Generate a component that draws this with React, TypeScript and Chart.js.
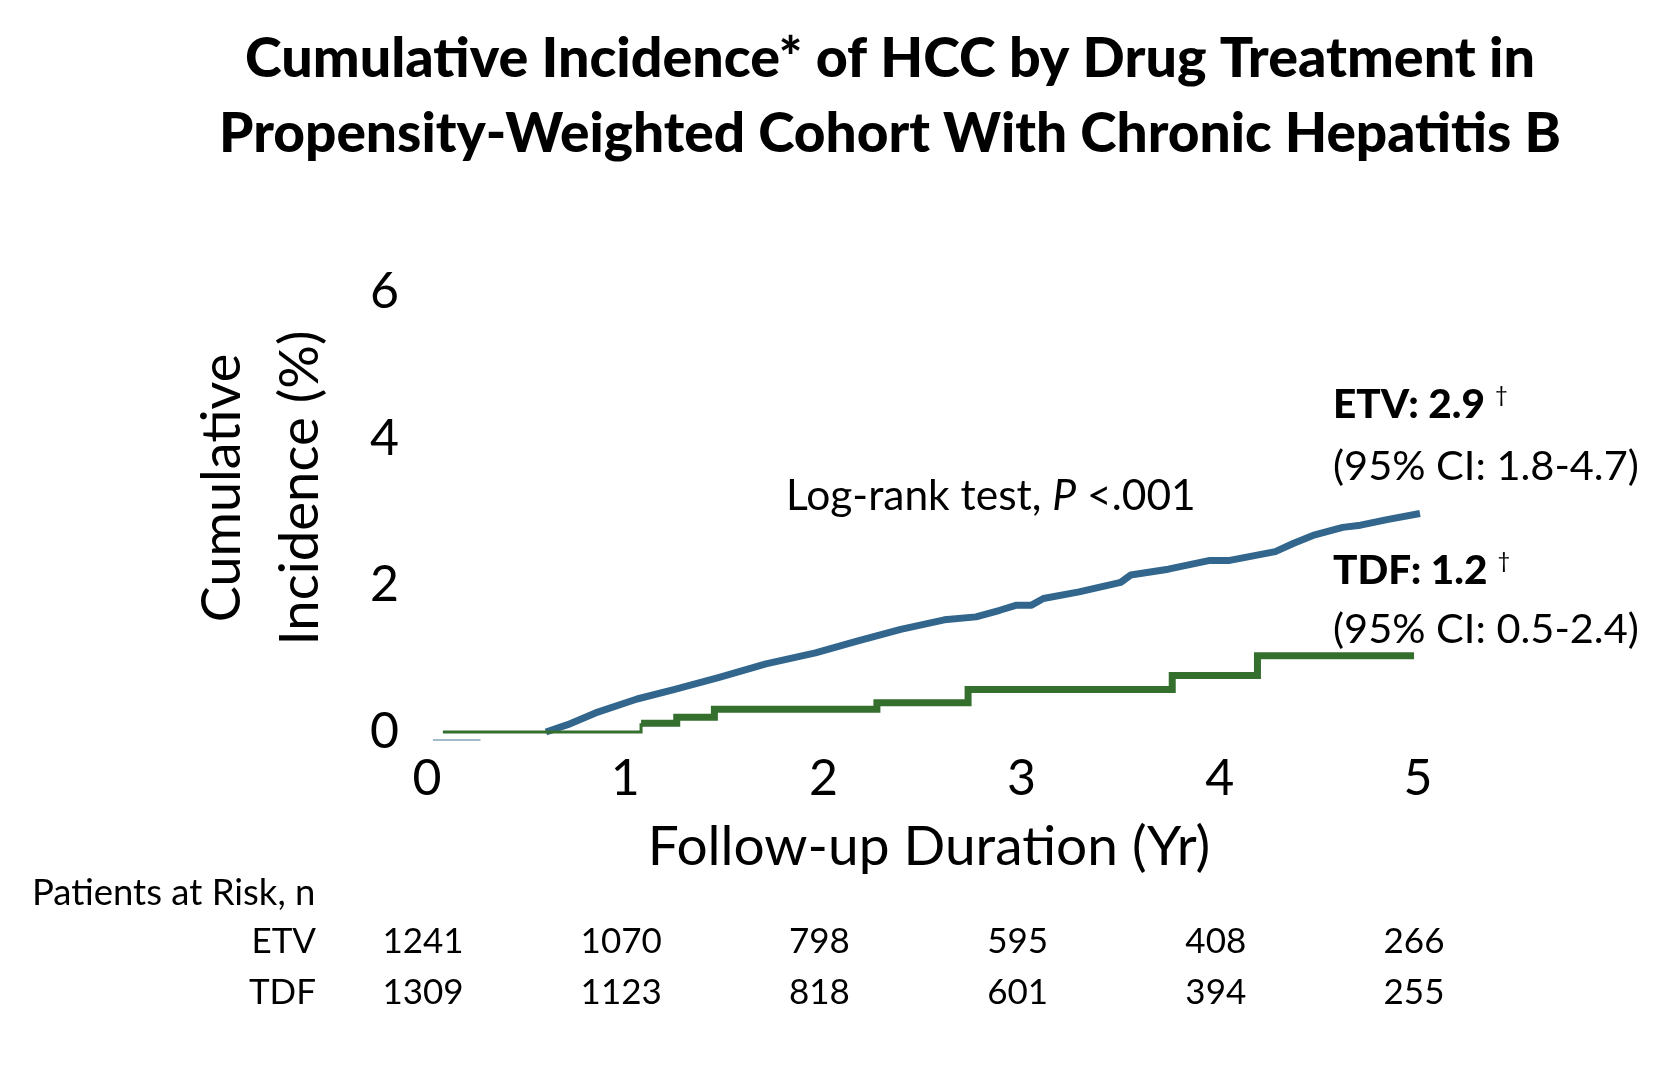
import React, { useEffect, useRef } from "react";
import { Chart, registerables } from "chart.js";

Chart.register(...registerables);

// ---- data ----
const etvYears = [0.6, 0.71, 0.85, 1.06, 1.25, 1.47, 1.71, 1.96, 2.17, 2.39, 2.61, 2.77, 2.89, 2.975, 3.05, 3.11, 3.29, 3.5, 3.55, 3.74, 3.95, 4.05, 4.28, 4.37, 4.47, 4.62, 4.71, 4.85, 5.01];
const etvValues = [0, 0.1, 0.26, 0.45, 0.58, 0.74, 0.93, 1.08, 1.24, 1.4, 1.53, 1.57, 1.66, 1.73, 1.73, 1.82, 1.91, 2.04, 2.14, 2.22, 2.34, 2.34, 2.46, 2.57, 2.68, 2.79, 2.82, 2.9, 2.98];
const etvStubYears = [0.03, 0.27];
const etvStubValues = [-0.11, -0.11];
const tdfYears = [0.08, 1.08, 1.26, 1.45, 2.27, 2.73, 3.76, 4.19, 4.98];
const tdfValues = [0, 0.12, 0.2, 0.31, 0.4, 0.58, 0.77, 1.04, 1.04];

const xTicks = [0, 1, 2, 3, 4, 5];
const yTicks = [0, 2, 4, 6];
const riskGroups = ["ETV", "TDF"];
const riskETV = [1241, 1070, 798, 595, 408, 266];
const riskTDF = [1309, 1123, 818, 601, 394, 255];

const titleLines = [
  "Cumulative Incidence* of HCC by Drug Treatment in",
  "Propensity-Weighted Cohort With Chronic Hepatitis B",
];
const yTitleLines = ["Cumulative", "Incidence (%)"];
const xTitle = "Follow-up Duration (Yr)";
const etvLabel = "ETV: 2.9";
const etvCI = "(95% CI: 1.8-4.7)";
const tdfLabel = "TDF: 1.2";
const tdfCI = "(95% CI: 0.5-2.4)";
const riskHeader = "Patients at Risk, n";

const FONT = "Lato, 'Noto Sans', sans-serif";
const BLUE = "#32668c";
const GREEN = "#356f2e";

const textPlugin = {
  id: "texts",
  afterDraw(chart: any) {
    const ctx = chart.ctx as CanvasRenderingContext2D;
    const xs = chart.scales.x;
    ctx.save();
    ctx.fillStyle = "#000";
    // title
    ctx.textAlign = "center";
    ctx.textBaseline = "middle";
    ctx.font = `900 55.6px ${FONT}`;
    ctx.fillText(titleLines[0], 890, 59);
    ctx.font = `900 55px ${FONT}`;
    ctx.fillText(titleLines[1], 890, 134);

    // y title
    ctx.save();
    ctx.font = `54px ${FONT}`;
    ctx.translate(223, 488);
    ctx.rotate(-Math.PI / 2);
    ctx.fillText(yTitleLines[0], 0, 0);
    ctx.restore();
    ctx.save();
    ctx.font = `54.5px ${FONT}`;
    ctx.translate(300, 488);
    ctx.rotate(-Math.PI / 2);
    ctx.fillText(yTitleLines[1], 0, 0);
    ctx.restore();

    // x title
    ctx.font = `55px ${FONT}`;
    ctx.fillText(xTitle, 929, 847);

    // log-rank
    ctx.textAlign = "left";
    let x = 786;
    const ly = 496;
    ctx.font = `42.5px ${FONT}`;
    const p1 = "Log-rank test, ";
    ctx.fillText(p1, x, ly);
    x += ctx.measureText(p1).width;
    ctx.font = `italic 42.5px ${FONT}`;
    ctx.fillText("P", x, ly);
    x += ctx.measureText("P").width;
    ctx.font = `42.5px ${FONT}`;
    ctx.fillText(" <.001", x, ly);

    // ETV / TDF labels
    const LX = 1333;
    const drawLab = (label: string, y: number) => {
      ctx.font = `900 40.5px ${FONT}`;
      ctx.fillText(label, LX, y);
      const w = ctx.measureText(label).width;
      ctx.font = `22px ${FONT}`;
      ctx.fillText("\u2020", LX + w + 10, y - 10);
    };
    drawLab(etvLabel, 405);
    ctx.font = `41.5px ${FONT}`;
    ctx.fillText(etvCI, LX, 467);
    drawLab(tdfLabel, 571);
    ctx.font = `41.5px ${FONT}`;
    ctx.fillText(tdfCI, LX, 630);

    // risk table
    ctx.font = `36.5px ${FONT}`;
    ctx.fillText(riskHeader, 32, 893);
    ctx.font = `35px ${FONT}`;
    ctx.textAlign = "right";
    ctx.fillText(riskGroups[0], 316, 942);
    ctx.fillText(riskGroups[1], 316, 993);
    ctx.textAlign = "center";
    xTicks.forEach((t, i) => {
      const px = xs.getPixelForValue(t) - 4;
      ctx.fillText(String(riskETV[i]), px, 942);
      ctx.fillText(String(riskTDF[i]), px, 993);
    });
    ctx.restore();
  },
};

export default function App() {
  const ref = useRef<HTMLCanvasElement | null>(null);
  useEffect(() => {
    document.body.style.margin = "0";
    const canvas = ref.current!;
    const chart = new Chart(canvas, {
      type: "line",
      data: {
        datasets: [
          {
            label: "ETV stub",
            data: etvStubYears.map((v, i) => ({ x: v, y: etvStubValues[i] })),
            borderColor: "rgba(50,102,140,0.45)",
            borderWidth: 2,
            pointRadius: 0,
          },
          {
            label: "TDF",
            data: tdfYears.map((v, i) => ({ x: v, y: tdfValues[i] })),
            borderColor: GREEN,
            borderWidth: 7,
            stepped: true,
            pointRadius: 0,
            segment: {
              borderWidth: (c: any) => (c.p0DataIndex === 0 ? 3 : 7),
            },
          },
          {
            label: "ETV",
            data: etvYears.map((v, i) => ({ x: v, y: etvValues[i] })),
            borderColor: BLUE,
            borderWidth: 7,
            borderJoinStyle: "round",
            borderCapStyle: "butt",
            pointRadius: 0,
            tension: 0,
          },
        ],
      },
      options: {
        animation: false,
        responsive: false,
        devicePixelRatio: 1,
        layout: { padding: { left: 0, right: 258, top: 292, bottom: 0 } },
        plugins: {
          legend: { display: false },
          tooltip: { enabled: false },
          title: { display: false },
        },
        elements: { line: { borderJoinStyle: "miter" } },
        datasets: { line: { clip: false } } as any,
        scales: {
          x: {
            type: "linear",
            min: 0,
            max: 5,
            afterFit: (s: any) => {
              s.height = 348;
            },
            afterBuildTicks: (s: any) => {
              s.ticks = xTicks.map((v) => ({ value: v }));
            },
            grid: { display: false, drawTicks: false },
            border: { display: false },
            ticks: {
              padding: 17,
              color: "#000",
              font: { family: FONT, size: 50 },
            },
          },
          y: {
            type: "linear",
            min: 0,
            max: 6,
            afterFit: (s: any) => {
              s.width = 427;
            },
            afterBuildTicks: (s: any) => {
              s.ticks = yTicks.map((v) => ({ value: v }));
            },
            grid: { display: false, drawTicks: false },
            border: { display: false },
            ticks: {
              padding: 28,
              color: "#000",
              font: { family: FONT, size: 50 },
            },
          },
        },
      },
      plugins: [textPlugin],
    } as any);
    return () => chart.destroy();
  }, []);
  return (
    <div style={{ position: "fixed", left: 0, top: 0, width: 1676, height: 1080, background: "#fff" }}>
      <canvas ref={ref} width={1676} height={1080} style={{ width: 1676, height: 1080 }} />
    </div>
  );
}
